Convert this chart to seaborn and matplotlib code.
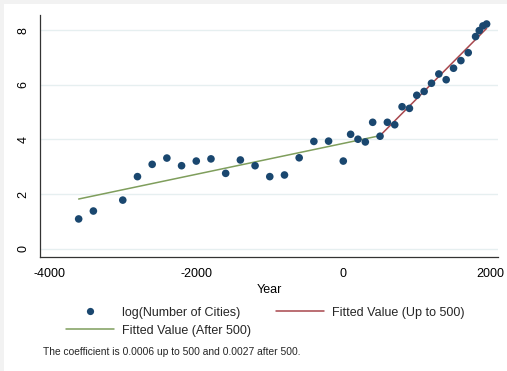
import matplotlib
matplotlib.use("Agg")
import matplotlib.pyplot as plt
from matplotlib.patches import Rectangle
from matplotlib.lines import Line2D
import seaborn as sns
import pandas as pd

# ---- data ----
years = [-3600, -3400, -3000, -2800, -2600, -2400, -2200, -2000, -1800, -1600,
         -1400, -1200, -1000, -800, -600, -400, -200, 0, 100, 200, 300, 400,
         500, 600, 700, 800, 900, 1000, 1100, 1200, 1300, 1400, 1500, 1600,
         1700, 1800, 1850, 1900, 1950]
log_cities = [1.09, 1.38, 1.78, 2.64, 3.09, 3.32, 3.04, 3.21, 3.29, 2.76,
              3.25, 3.04, 2.64, 2.70, 3.33, 3.93, 3.94, 3.21, 4.19, 4.01, 3.91, 4.63,
              4.12, 4.63, 4.54, 5.20, 5.14, 5.62, 5.76, 6.06, 6.40, 6.19, 6.61, 6.89,
              7.18, 7.77, 7.99, 8.16, 8.23]
fit_after_years = [-3600, 500]
fit_after_vals = [1.82, 4.14]
fit_upto_years = [500, 1950]
fit_upto_vals = [4.14, 8.07]
x_ticks = [-4000, -2000, 0, 2000]
y_ticks = [0, 2, 4, 6, 8]
x_label = "Year"
lab_pts = "log(Number of Cities)"
lab_upto = "Fitted Value (Up to 500)"
lab_after = "Fitted Value (After 500)"
note = "The coefficient is 0.0006 up to 500 and 0.0027 after 500."

sns.set_style("white")
plt.rcParams["font.family"] = ["Liberation Sans", "DejaVu Sans"]

NAVY = "#1a476f"
RED = "#a8474d"
GREEN = "#7f9e5c"
GRID = "#e6eff0"
AXC = "#333333"

fig = plt.figure(figsize=(5.07, 3.71), dpi=100)
fig.patch.set_facecolor("white")
ax = fig.add_axes([40.3 / 507, 114.3 / 371, (498 - 40.3) / 507, (256.7 - 15) / 371])

# subtle grey frame strips seen at top/left of the screenshot
fig.patches.append(Rectangle((0, 1 - 4 / 371), 1, 4 / 371, transform=fig.transFigure,
                             facecolor="#f2f2f2", edgecolor="none", zorder=-5))
fig.patches.append(Rectangle((0, 0), 4 / 507, 1, transform=fig.transFigure,
                             facecolor="#f2f2f2", edgecolor="none", zorder=-5))

df = pd.DataFrame({"year": years, "val": log_cities})
df_after = pd.DataFrame({"year": fit_after_years, "val": fit_after_vals})
df_upto = pd.DataFrame({"year": fit_upto_years, "val": fit_upto_vals})

for yv in y_ticks:
    ax.axhline(yv, color=GRID, lw=1.0, zorder=0)

sns.lineplot(data=df_after, x="year", y="val", ax=ax, color=GREEN, lw=1.1, zorder=2)
sns.lineplot(data=df_upto, x="year", y="val", ax=ax, color=RED, lw=1.1, zorder=2)
sns.scatterplot(data=df, x="year", y="val", ax=ax, color=NAVY, s=30,
                edgecolor="none", zorder=3)

ax.set_xlim(-4122, 2105)
ax.set_ylim(-0.293, 8.56)
ax.set_xticks(x_ticks)
ax.set_xticklabels([str(v) for v in x_ticks])
ax.set_yticks(y_ticks)
ax.set_yticklabels([str(v) for v in y_ticks], rotation=90, va="center")
ax.set_xlabel(x_label, fontsize=9, labelpad=3, color="black")
ax.set_ylabel("")
ax.tick_params(axis="both", direction="out", length=5, width=0.8, color=AXC,
               labelsize=9, pad=3, labelcolor="black")
for s in ["top", "right"]:
    ax.spines[s].set_visible(False)
for s in ["left", "bottom"]:
    ax.spines[s].set_color(AXC)
    ax.spines[s].set_linewidth(0.9)
ax.set_facecolor("white")

handles = [
    Line2D([], [], marker="o", ls="none", color=NAVY, markersize=5.2, markeredgewidth=0),
    Line2D([], [], color=GREEN, lw=1.1),
    Line2D([], [], color=RED, lw=1.1),
]
labels = [lab_pts, lab_after, lab_upto]
fig.legend(handles, labels, ncol=2, loc="center", bbox_to_anchor=(265.5 / 507, 1 - 321.7 / 371),
           frameon=False, fontsize=9, handlelength=3.85, handletextpad=0.65,
           columnspacing=2.0, labelspacing=0.5, borderpad=0)

fig.text(43.3 / 507, 1 - 351.7 / 371, note, fontsize=7.4, va="center", ha="left")

fig.savefig("out.png", dpi=100)
